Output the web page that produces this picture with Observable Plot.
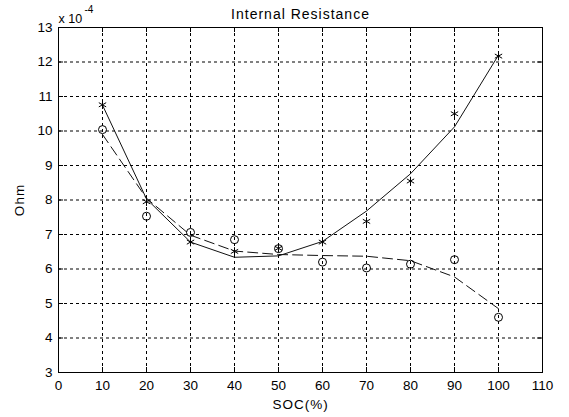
<!DOCTYPE html>
<html>
<head>
<meta charset="utf-8">
<script src="https://cdn.jsdelivr.net/npm/d3@7"></script>
<script src="https://cdn.jsdelivr.net/npm/@observablehq/plot@0.6"></script>
<style>
  html, body { margin: 0; padding: 0; background: #fff; }
  #chart svg { display: block; }
</style>
</head>
<body>
<div id="chart"></div>
<script>
// SOC (%) sample points
const soc = [10, 20, 30, 40, 50, 60, 70, 80, 90, 100];
// Measured resistance (x 1e-4 Ohm), star markers
const starValues = [10.76, 7.95, 6.78, 6.51, 6.60, 6.78, 7.38, 8.55, 10.50, 12.17];
// Measured resistance (x 1e-4 Ohm), circle markers
const circleValues = [10.04, 7.53, 7.06, 6.85, 6.59, 6.20, 6.03, 6.14, 6.27, 4.60];
// Fitted curve through stars (solid)
const solidFit = [10.75, 8.03, 6.78, 6.34, 6.38, 6.80, 7.68, 8.76, 10.12, 12.20];
// Fitted curve through circles (dashed)
const dashedFit = [9.90, 8.05, 6.98, 6.52, 6.42, 6.39, 6.37, 6.24, 5.77, 4.85];
// Axis ticks
const xTicks = [0, 10, 20, 30, 40, 50, 60, 70, 80, 90, 100, 110];
const yTicks = [3, 4, 5, 6, 7, 8, 9, 10, 11, 12, 13];

const stars = soc.map((s, i) => ({x: s, y: starValues[i]}));
const circles = soc.map((s, i) => ({x: s, y: circleValues[i]}));
const solid = soc.map((s, i) => ({x: s, y: solidFit[i]}));
const dashed = soc.map((s, i) => ({x: s, y: dashedFit[i]}));

const W = 569, H = 417;
const mL = 58, mR = 27, mT = 27, mB = 45;
const fh = H - mT - mB, fw = W - mL - mR;
const font = "'Liberation Sans', Arial, Helvetica, sans-serif";

const chart = Plot.plot({
  width: W,
  height: H,
  marginLeft: mL,
  marginRight: mR,
  marginTop: mT,
  marginBottom: mB,
  style: {fontFamily: font, fontSize: "13px", color: "#000", background: "#fff"},
  x: {domain: [0, 110]},
  y: {domain: [3, 13]},
  marks: [
    Plot.gridX(xTicks.slice(1, -1), {stroke: "#000", strokeOpacity: 1, strokeDasharray: "3,3", strokeWidth: 1}),
    Plot.gridY(yTicks.slice(1, -1), {stroke: "#000", strokeOpacity: 1, strokeDasharray: "3,3", strokeWidth: 1}),
    // inward ticks
    Plot.ruleX(xTicks, {x: d => d, insetTop: fh - 5, stroke: "#000"}),
    Plot.ruleX(xTicks, {x: d => d, insetBottom: fh - 5, stroke: "#000"}),
    Plot.ruleY(yTicks, {y: d => d, insetRight: fw - 5, stroke: "#000"}),
    Plot.ruleY(yTicks, {y: d => d, insetLeft: fw - 5, stroke: "#000"}),
    Plot.axisX(xTicks, {tickSize: 0, tickPadding: 8, label: "SOC(%)", labelAnchor: "center", labelArrow: "none", labelOffset: 36, fontSize: 13.5}),
    Plot.axisY(yTicks, {tickSize: 0, tickPadding: 6, label: "Ohm", labelAnchor: "center", labelArrow: "none", labelOffset: 44, fontSize: 13.5}),
    Plot.line(solid, {x: "x", y: "y", stroke: "#111", strokeWidth: 1}),
    Plot.line(dashed, {x: "x", y: "y", stroke: "#111", strokeWidth: 1, strokeDasharray: "10,5"}),
    Plot.dot(stars, {x: "x", y: "y", symbol: "asterisk", r: 4, stroke: "#000", strokeWidth: 1}),
    Plot.dot(circles, {x: "x", y: "y", symbol: "circle", r: 4, stroke: "#000", fill: "none", strokeWidth: 1}),
    Plot.frame({stroke: "#000", strokeWidth: 1}),
    Plot.text(["Internal Resistance"], {frameAnchor: "top", dy: -18, fontSize: 14}),
    Plot.text(["x 10"], {frameAnchor: "top-left", textAnchor: "start", dy: -13, dx: 0, fontSize: 12.5}),
    Plot.text(["-4"], {frameAnchor: "top-left", textAnchor: "start", dy: -22, dx: 26, fontSize: 10})
  ]
});
document.getElementById("chart").appendChild(chart);
// Wider letter spacing, like the original's rendering of labels
d3.select(chart).selectAll("text").each(function() {
  const t = this.textContent;
  if (t === "Internal Resistance" || t === "SOC(%)" || t === "Ohm") {
    d3.select(this).style("letter-spacing", "1px");
  }
});
</script>
</body>
</html>
